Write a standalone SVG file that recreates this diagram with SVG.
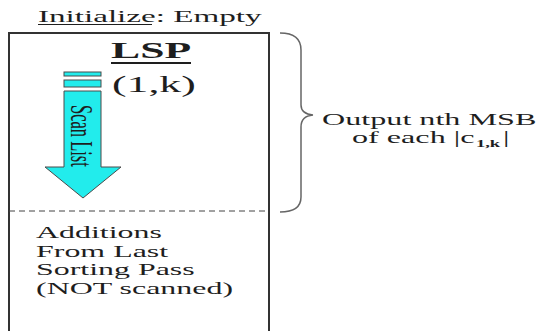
<svg xmlns="http://www.w3.org/2000/svg" width="541" height="331" viewBox="0 0 541 331">
  <style>
    .t{font-family:"Liberation Serif","Times New Roman",serif;fill:#1e1e1e}
    .frame{fill:none;stroke:#333;stroke-width:2}
    .ul{stroke:#1e1e1e;fill:none}
    .cyan{fill:#22ecec;stroke:#4a4a4a;stroke-width:1}
  </style>
  <rect width="541" height="331" fill="#ffffff"/>

  <!-- all lettering uses a wide face: glyphs are stretched ~1.9x horizontally -->

  <!-- heading -->
  <g id="heading">
    <text class="t" transform="translate(38,22) scale(1.95,1)" font-size="17">Initialize: Empty</text>
    <line class="ul" x1="38" y1="24.5" x2="152" y2="24.5" stroke-width="1.2"/>
  </g>

  <!-- list container -->
  <g id="lsp-box">
    <path class="frame" d="M9,331 V33 H269 V331"/>
    <line x1="9" y1="211" x2="269" y2="211" stroke="#444" stroke-width="1" stroke-dasharray="6,4"/>
    <text class="t" transform="translate(111,58) scale(1.95,1)" font-size="22.4" font-weight="bold">LSP</text>
    <line class="ul" x1="111" y1="63" x2="191" y2="63" stroke-width="2"/>
    <text class="t" transform="translate(112,92) scale(1.9,1)" font-size="23">(1,k)</text>
  </g>

  <!-- scan arrow -->
  <g id="scan-arrow">
    <rect class="cyan" x="64" y="72" width="37" height="4"/>
    <rect class="cyan" x="64" y="80" width="37" height="7"/>
    <polygon class="cyan" points="64,91 101,91 101,167 121,167 83,198 45,167 64,167"/>
    <text class="t" transform="translate(71,105) scale(1.95,1) rotate(90)" font-size="16.5">Scan List</text>
  </g>

  <!-- unscanned region label -->
  <g id="additions">
    <text class="t" transform="translate(36,238) scale(1.9,1)" font-size="16.8">Additions</text>
    <text class="t" transform="translate(36,256.5) scale(1.9,1)" font-size="16.8">From Last</text>
    <text class="t" transform="translate(36,275) scale(1.9,1)" font-size="16.8">Sorting Pass</text>
    <text class="t" transform="translate(36,293.5) scale(1.9,1)" font-size="16.8">(NOT scanned)</text>
  </g>

  <!-- brace -->
  <g id="connectors">
    <path d="M280,33 Q301,33 301,50 V105 Q301,114 313,115 Q301,116 301,127 V197 Q301,212 280,212" fill="none" stroke="#666" stroke-width="1.5"/>
  </g>

  <!-- note beside the brace -->
  <g id="output-note">
    <text class="t" transform="translate(322,125) scale(1.87,1)" font-size="17.2">Output nth MSB</text>
    <text class="t" transform="translate(352,143) scale(1.87,1)" font-size="17.2">of each |c</text>
    <text class="t" transform="translate(476,147) scale(1.85,1)" font-size="10" font-weight="bold">1,k</text>
    <text class="t" transform="translate(503,143) scale(1.87,1)" font-size="17.2">|</text>
  </g>
</svg>
